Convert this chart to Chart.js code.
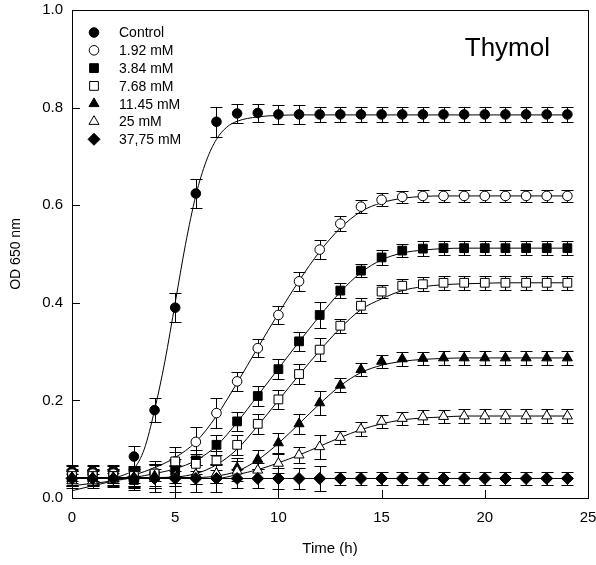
<!DOCTYPE html>
<html>
<head>
<meta charset="utf-8">
<title>Thymol</title>
<script src="https://cdn.jsdelivr.net/npm/chart.js@4.4.1/dist/chart.umd.min.js"></script>
<style>
  html, body { margin: 0; padding: 0; background: #fff; }
  #wrap { width: 596px; height: 565px; }
</style>
</head>
<body>
<div id="wrap"><canvas id="myChart" width="596" height="565"></canvas></div>
<script>
// sampling times (h)
const hours = [0, 1, 2, 3, 4, 5, 6, 7, 8, 9, 10, 11, 12, 13, 14, 15, 16, 17, 18, 19, 20, 21, 22, 23, 24];
const seriesNames = ['Control', '1.92 mM', '3.84 mM', '7.68 mM', '11.45 mM', '25 mM', '37,75 mM'];
const xTicks = [0, 5, 10, 15, 20, 25];
const yTicks = [0.0, 0.2, 0.4, 0.6, 0.8, 1.0];

// measured OD 650 nm (mean) and SD
const odControl = [0.055, 0.055, 0.056, 0.085, 0.18, 0.39, 0.624, 0.771, 0.788, 0.789, 0.786, 0.786, 0.786, 0.786, 0.786, 0.786, 0.786, 0.786, 0.786, 0.786, 0.786, 0.786, 0.786, 0.786, 0.786];
const od192 = [0.05, 0.05, 0.05, 0.045, 0.052, 0.075, 0.115, 0.174, 0.239, 0.307, 0.375, 0.444, 0.509, 0.562, 0.597, 0.611, 0.617, 0.619, 0.619, 0.619, 0.619, 0.619, 0.619, 0.619, 0.619];
const od384 = [0.04, 0.042, 0.045, 0.037, 0.045, 0.055, 0.077, 0.109, 0.157, 0.209, 0.264, 0.321, 0.375, 0.425, 0.466, 0.493, 0.507, 0.511, 0.512, 0.512, 0.512, 0.512, 0.512, 0.512, 0.512];
const od768 = [0.045, 0.045, 0.045, 0.045, 0.05, 0.075, 0.07, 0.077, 0.109, 0.152, 0.202, 0.254, 0.304, 0.353, 0.394, 0.423, 0.435, 0.438, 0.441, 0.441, 0.441, 0.441, 0.441, 0.441, 0.441];
const od1145 = [0.042, 0.042, 0.042, 0.042, 0.045, 0.045, 0.048, 0.05, 0.062, 0.079, 0.113, 0.152, 0.195, 0.231, 0.263, 0.28, 0.285, 0.286, 0.287, 0.287, 0.287, 0.287, 0.287, 0.287, 0.287];
const od25 = [0.035, 0.035, 0.037, 0.04, 0.04, 0.045, 0.048, 0.05, 0.055, 0.057, 0.071, 0.088, 0.105, 0.124, 0.141, 0.157, 0.163, 0.166, 0.167, 0.168, 0.168, 0.168, 0.168, 0.168, 0.168];
const od3775 = [0.04, 0.04, 0.04, 0.04, 0.04, 0.04, 0.04, 0.04, 0.04, 0.04, 0.04, 0.04, 0.04, 0.04, 0.04, 0.04, 0.04, 0.04, 0.04, 0.04, 0.04, 0.04, 0.04, 0.04, 0.04];

const sdControl = [0.012, 0.012, 0.012, 0.022, 0.025, 0.03, 0.029, 0.031, 0.019, 0.019, 0.019, 0.019, 0.015, 0.015, 0.015, 0.015, 0.015, 0.015, 0.015, 0.015, 0.015, 0.015, 0.015, 0.015, 0.015];
const sd192 = [0.015, 0.015, 0.015, 0.015, 0.018, 0.03, 0.03, 0.03, 0.02, 0.018, 0.019, 0.02, 0.02, 0.015, 0.013, 0.013, 0.013, 0.013, 0.013, 0.013, 0.013, 0.013, 0.013, 0.013, 0.013];
const sd384 = [0.015, 0.015, 0.015, 0.02, 0.025, 0.025, 0.022, 0.02, 0.019, 0.02, 0.02, 0.02, 0.026, 0.015, 0.014, 0.015, 0.014, 0.015, 0.014, 0.014, 0.014, 0.014, 0.014, 0.014, 0.014];
const sd768 = [0.015, 0.015, 0.015, 0.02, 0.025, 0.02, 0.02, 0.02, 0.02, 0.02, 0.02, 0.02, 0.024, 0.014, 0.015, 0.014, 0.014, 0.014, 0.014, 0.014, 0.014, 0.014, 0.014, 0.014, 0.014];
const sd1145 = [0.015, 0.015, 0.015, 0.02, 0.025, 0.02, 0.02, 0.02, 0.02, 0.02, 0.02, 0.02, 0.024, 0.014, 0.014, 0.014, 0.014, 0.014, 0.014, 0.014, 0.014, 0.014, 0.014, 0.014, 0.014];
const sd25 = [0.015, 0.015, 0.015, 0.02, 0.02, 0.02, 0.02, 0.02, 0.02, 0.015, 0.02, 0.016, 0.025, 0.014, 0.014, 0.014, 0.014, 0.014, 0.014, 0.014, 0.014, 0.014, 0.014, 0.014, 0.014];
const sd3775 = [0.015, 0.015, 0.015, 0.015, 0.028, 0.028, 0.028, 0.028, 0.02, 0.02, 0.021, 0.021, 0.026, 0.014, 0.014, 0.014, 0.014, 0.014, 0.014, 0.014, 0.014, 0.014, 0.014, 0.014, 0.014];

// fitted growth curves
const fitHours = hours;
const fitHoursControl = [0, 1, 2, 2.5, 3, 3.5, 4, 4.5, 5, 5.5, 6, 6.5, 7, 7.5, 8, 9, 10, 11, 12, 13, 14, 15, 16, 17, 18, 19, 20, 21, 22, 23, 24];
const fitControl = [0.04, 0.04, 0.042, 0.047, 0.06, 0.1, 0.18, 0.28, 0.4, 0.52, 0.62, 0.69, 0.735, 0.76, 0.772, 0.781, 0.784, 0.785, 0.785, 0.785, 0.785, 0.785, 0.785, 0.785, 0.785, 0.785, 0.785, 0.785, 0.785, 0.785, 0.785];
const fit192 = [0.015, 0.025, 0.035, 0.047, 0.062, 0.083, 0.115, 0.168, 0.236, 0.308, 0.378, 0.445, 0.505, 0.553, 0.587, 0.605, 0.614, 0.618, 0.619, 0.619, 0.619, 0.619, 0.619, 0.619, 0.619];
const fit384 = [0.025, 0.03, 0.035, 0.042, 0.05, 0.06, 0.077, 0.107, 0.155, 0.21, 0.265, 0.32, 0.373, 0.422, 0.462, 0.488, 0.502, 0.508, 0.511, 0.512, 0.512, 0.512, 0.512, 0.512, 0.512];
const fit768 = [0.042, 0.042, 0.042, 0.042, 0.042, 0.043, 0.05, 0.068, 0.1, 0.148, 0.2, 0.252, 0.302, 0.348, 0.386, 0.408, 0.425, 0.433, 0.437, 0.439, 0.44, 0.441, 0.441, 0.441, 0.441];
const fit1145 = [0.042, 0.042, 0.042, 0.042, 0.042, 0.042, 0.042, 0.045, 0.055, 0.078, 0.112, 0.152, 0.193, 0.23, 0.257, 0.272, 0.28, 0.284, 0.286, 0.287, 0.287, 0.287, 0.287, 0.287, 0.287];
const fit25 = [0.04, 0.04, 0.04, 0.04, 0.04, 0.04, 0.04, 0.04, 0.048, 0.058, 0.072, 0.088, 0.106, 0.124, 0.14, 0.152, 0.16, 0.164, 0.166, 0.168, 0.168, 0.168, 0.168, 0.168, 0.168];
const fit3775 = [0.04, 0.04, 0.04, 0.04, 0.04, 0.04, 0.04, 0.04, 0.04, 0.04, 0.04, 0.04, 0.04, 0.04, 0.04, 0.04, 0.04, 0.04, 0.04, 0.04, 0.04, 0.04, 0.04, 0.04, 0.04];

const FONT = "'Liberation Sans', Arial, sans-serif";

// marker per treatment: style, filled?, radius
const markers = [
    { style: 'circle', filled: true, r: 4.8 },
    { style: 'circle', filled: false, r: 4.8 },
    { style: 'rect', filled: true, r: 6.2 },
    { style: 'rect', filled: false, r: 6.2 },
    { style: 'triangle', filled: true, r: 5.8 },
    { style: 'triangle', filled: false, r: 5.8 },
    { style: 'rectRot', filled: true, r: 6 }
];

const means = [odControl, od192, od384, od768, od1145, od25, od3775];
const sds = [sdControl, sd192, sd384, sd768, sd1145, sd25, sd3775];
const fits = [fitControl, fit192, fit384, fit768, fit1145, fit25, fit3775];

function toPoints(xs, ys) {
    return xs.map(function (x, i) { return { x: x, y: ys[i] }; });
}

var datasets = [];
// fitted lines go underneath the symbols
fits.forEach(function (f, k) {
    datasets.push({
        label: seriesNames[k] + ' fit',
        isFit: true,
        data: toPoints(k === 0 ? fitHoursControl : fitHours, f),
        showLine: true,
        borderColor: '#000',
        borderWidth: 1,
        pointRadius: 0,
        cubicInterpolationMode: 'monotone',
        clip: false,
        order: 20
    });
});
means.forEach(function (m, k) {
    const mk = markers[k];
    datasets.push({
        label: seriesNames[k],
        errors: sds[k],
        marker: mk,
        data: toPoints(hours, m),
        showLine: false,
        pointStyle: mk.style,
        pointRadius: mk.r,
        pointHoverRadius: mk.r,
        pointBorderWidth: 1,
        pointBorderColor: '#000',
        pointBackgroundColor: mk.filled ? '#000' : '#fff',
        clip: false,
        order: 10 - k
    });
});

// frame, inward tick marks and error bars
const framePlugin = {
    id: 'frame',
    beforeDatasetsDraw(chart) {
        const ctx = chart.ctx, a = chart.chartArea;
        const xs = chart.scales.x, ys = chart.scales.y;
        ctx.save();
        ctx.strokeStyle = '#000';
        ctx.lineWidth = 1;
        ctx.strokeRect(Math.round(a.left) + 0.5, Math.round(a.top) + 0.5,
            Math.round(a.right - a.left), Math.round(a.bottom - a.top));
        ctx.beginPath();
        xTicks.forEach(function (v) {
            const px = Math.round(xs.getPixelForValue(v)) + 0.5;
            ctx.moveTo(px, a.bottom);
            ctx.lineTo(px, a.bottom - 8);
        });
        yTicks.forEach(function (v) {
            const py = Math.round(ys.getPixelForValue(v)) + 0.5;
            ctx.moveTo(a.left, py);
            ctx.lineTo(a.left + 8, py);
        });
        ctx.stroke();

        chart.data.datasets.forEach(function (ds) {
            if (!ds.errors) return;
            ctx.beginPath();
            ds.data.forEach(function (p, i) {
                const px = Math.round(xs.getPixelForValue(p.x)) + 0.5;
                const top = Math.round(ys.getPixelForValue(p.y + ds.errors[i])) + 0.5;
                const bot = Math.round(ys.getPixelForValue(p.y - ds.errors[i])) + 0.5;
                ctx.moveTo(px, top); ctx.lineTo(px, bot);
                ctx.moveTo(px - 6, top); ctx.lineTo(px + 6, top);
                ctx.moveTo(px - 6, bot); ctx.lineTo(px + 6, bot);
            });
            ctx.stroke();
        });
        ctx.restore();
    }
};

// legend in the upper left corner and the panel label
const keyPlugin = {
    id: 'key',
    afterDraw(chart) {
        const ctx = chart.ctx, a = chart.chartArea;
        ctx.save();
        ctx.font = '14px ' + FONT;
        ctx.textBaseline = 'middle';
        ctx.textAlign = 'left';
        var row = 0;
        chart.data.datasets.forEach(function (ds) {
            if (ds.isFit) return;
            const mk = ds.marker;
            const y = a.top + 22.5 + row * 17.8;
            const x = a.left + 22;
            ctx.fillStyle = mk.filled ? '#000' : '#fff';
            ctx.strokeStyle = '#000';
            ctx.lineWidth = 1;
            Chart.helpers.drawPoint(ctx, { pointStyle: mk.style, radius: mk.r, borderWidth: 1, rotation: 0 }, x, y);
            ctx.fillStyle = '#000';
            ctx.fillText(ds.label, a.left + 47, y + 1);
            row++;
        });
        ctx.font = '26px ' + FONT;
        ctx.textAlign = 'right';
        ctx.textBaseline = 'alphabetic';
        ctx.fillText('Thymol', a.right - 38, a.top + 46);
        ctx.restore();
    }
};

Chart.defaults.font.family = FONT;
Chart.defaults.color = '#000';

const ctx = document.getElementById('myChart');
new Chart(ctx, {
    type: 'scatter',
    data: { datasets: datasets },
    options: {
        responsive: false,
        animation: false,
        events: [],
        layout: { padding: { top: 10, right: 8, left: 0, bottom: 0 } },
        plugins: {
            legend: { display: false },
            tooltip: { enabled: false }
        },
        scales: {
            x: {
                type: 'linear',
                min: 0,
                max: 25,
                afterFit: function (scale) {
                    scale.height = 67;
                    // let the last label run to the canvas edge
                    scale.paddingLeft = 0;
                    scale.paddingRight = 0;
                },
                afterBuildTicks: function (scale) {
                    scale.ticks = xTicks.map(function (v) { return { value: v }; });
                },
                grid: { display: false, drawTicks: false },
                border: { display: false },
                ticks: {
                    font: { size: 15 },
                    padding: 11,
                    maxRotation: 0,
                    callback: function (v) { return v; }
                },
                title: {
                    display: true,
                    text: 'Time (h)',
                    font: { size: 15 },
                    padding: { top: 0, bottom: 7 }
                }
            },
            y: {
                type: 'linear',
                min: 0,
                max: 1,
                afterFit: function (scale) {
                    scale.width = 72;
                    scale.paddingTop = 0;
                    scale.paddingBottom = 0;
                },
                afterBuildTicks: function (scale) {
                    scale.ticks = yTicks.map(function (v) { return { value: v }; });
                },
                grid: { display: false, drawTicks: false },
                border: { display: false },
                ticks: {
                    font: { size: 15 },
                    padding: 9,
                    callback: function (v) { return v.toFixed(1); }
                },
                title: {
                    display: true,
                    text: 'OD 650 nm',
                    font: { size: 14 },
                    padding: { top: 8, bottom: 0 }
                }
            }
        }
    },
    plugins: [framePlugin, keyPlugin]
});
</script>
</body>
</html>
